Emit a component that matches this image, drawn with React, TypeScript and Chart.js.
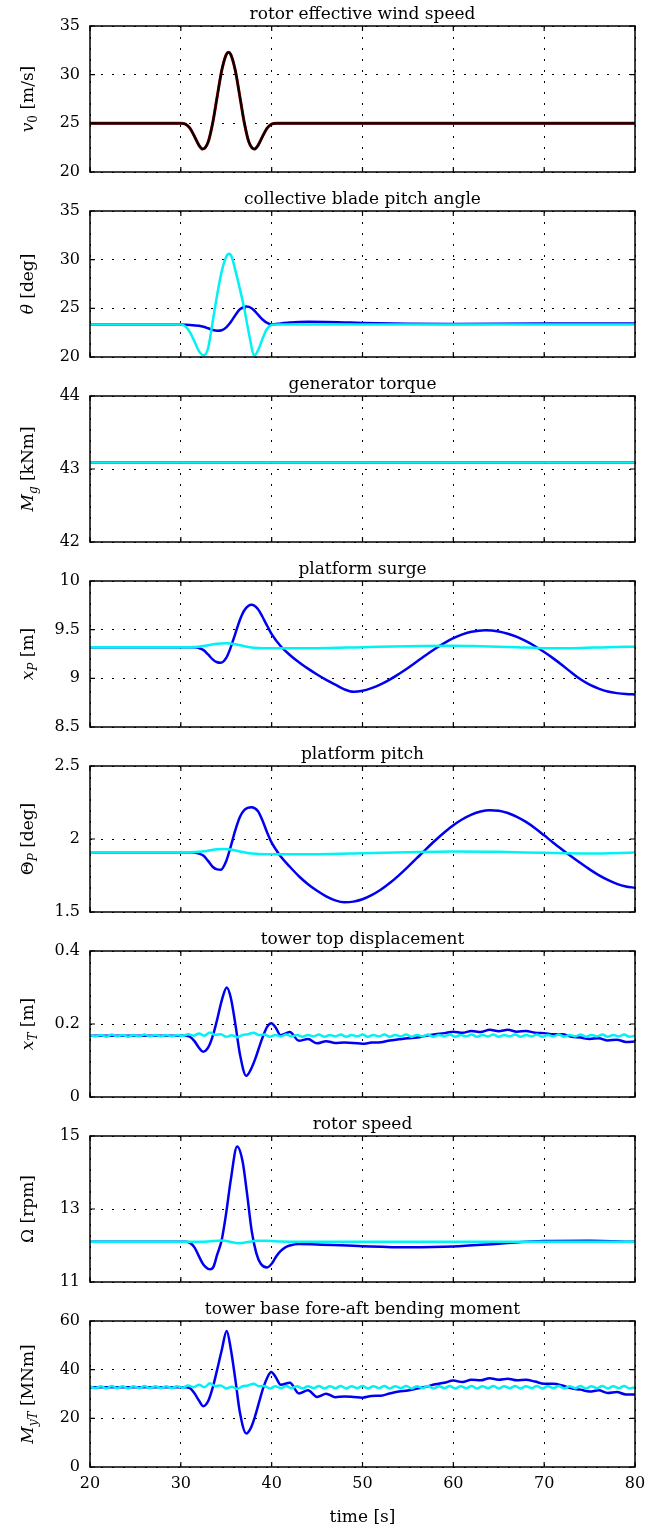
import React, { useEffect, useRef } from 'react';
import { Chart, registerables } from 'chart.js';

Chart.register(...registerables);

// ---------------- data ----------------
const xTicksTime = [20, 30, 40, 50, 60, 70, 80];

// rotor effective wind speed [m/s]
const windTime = [20, 30, 30.5, 31, 31.5, 32, 32.4, 33, 33.5, 34, 34.5, 35, 35.25, 35.5, 36, 36.5, 37, 37.5, 38.1, 38.5, 39, 39.5, 40, 40.5, 80];
const windSpeed = [25, 25, 24.93, 24.5, 23.66, 22.74, 22.36, 23.06, 25, 27.74, 30.42, 32.07, 32.3, 32.07, 30.42, 27.74, 25, 23.06, 22.36, 22.74, 23.66, 24.5, 24.93, 25, 25];

// collective blade pitch angle [deg]
const bladePitchBlueTime = [20, 30, 31, 32, 32.5, 33, 33.5, 34, 34.5, 35, 35.5, 36, 36.5, 37.2, 37.5, 38, 38.5, 39, 39.5, 40, 41, 42, 44, 46, 48, 50, 55, 60, 70, 80];
const bladePitchBlue = [23.35, 23.35, 23.3, 23.2, 23.1, 22.95, 22.78, 22.7, 22.75, 23.05, 23.6, 24.3, 24.9, 25.2, 25.15, 24.85, 24.35, 23.85, 23.5, 23.35, 23.45, 23.55, 23.62, 23.6, 23.55, 23.5, 23.42, 23.4, 23.45, 23.45];
const bladePitchCyanTime = [20, 30, 30.5, 31, 31.5, 32, 32.5, 33, 33.5, 34, 34.5, 35, 35.3, 35.6, 36, 36.5, 37, 37.5, 38.1, 38.6, 39, 39.5, 40, 40.5, 80];
const bladePitchCyan = [23.35, 23.35, 23.15, 22.55, 21.6, 20.6, 20.17, 20.9, 23.6, 26.4, 28.8, 30.3, 30.6, 30.3, 28.9, 27.0, 24.9, 22.4, 20.17, 20.9, 21.9, 22.9, 23.3, 23.35, 23.35];

// generator torque [kNm]
const torqueTime = [20, 80];
const torqueBlue = [43.09, 43.09];
const torqueCyan = [43.09, 43.09];

// platform surge [m]
const surgeBlueTime = [20, 31, 31.5, 32, 32.5, 33, 33.5, 34, 34.4, 35, 35.5, 36, 36.5, 37, 37.8, 38.5, 39, 39.5, 40, 41, 42, 43, 44, 45, 46, 47, 48, 49, 50, 51, 52, 53, 54, 55, 56, 57, 58, 59, 60, 61, 62, 63.5, 65, 66, 67, 68, 69, 70, 71, 72, 73, 74, 75, 76, 77, 78, 79, 80];
const surgeBlue = [9.32, 9.32, 9.318, 9.31, 9.29, 9.245, 9.195, 9.165, 9.16, 9.21, 9.32, 9.46, 9.6, 9.7, 9.755, 9.71, 9.63, 9.54, 9.455, 9.33, 9.24, 9.165, 9.1, 9.04, 8.985, 8.935, 8.887, 8.862, 8.872, 8.9, 8.938, 8.987, 9.045, 9.107, 9.173, 9.24, 9.304, 9.362, 9.412, 9.451, 9.478, 9.494, 9.482, 9.458, 9.425, 9.382, 9.33, 9.27, 9.205, 9.135, 9.06, 8.99, 8.935, 8.895, 8.865, 8.848, 8.838, 8.835];
const surgeCyanTime = [20, 31, 32, 33, 34, 35, 36, 37, 38, 39, 42, 45, 50, 55, 60, 63, 67, 70, 73, 77, 80];
const surgeCyan = [9.32, 9.32, 9.325, 9.34, 9.355, 9.36, 9.35, 9.33, 9.315, 9.31, 9.31, 9.31, 9.32, 9.33, 9.335, 9.33, 9.32, 9.31, 9.31, 9.32, 9.325];

// platform pitch [deg]
const platPitchBlueTime = [20, 31, 31.5, 32, 32.5, 33, 33.5, 34, 34.4, 35, 35.5, 36, 36.5, 37, 37.8, 38.5, 39, 39.5, 40, 40.5, 41, 42, 43, 44, 45, 46, 47, 48, 49, 50, 51, 52, 53, 54, 55, 56, 57, 58, 59, 60, 61, 62, 63, 64, 65, 66, 67, 68, 69, 70, 71, 72, 73, 74, 75, 76, 77, 78, 79, 80];
const platPitchBlue = [1.91, 1.91, 1.908, 1.9, 1.885, 1.85, 1.81, 1.792, 1.79, 1.85, 1.95, 2.06, 2.15, 2.2, 2.218, 2.19, 2.125, 2.045, 1.975, 1.925, 1.88, 1.81, 1.745, 1.69, 1.645, 1.607, 1.58, 1.567, 1.571, 1.587, 1.615, 1.652, 1.698, 1.751, 1.809, 1.87, 1.931, 1.99, 2.045, 2.094, 2.135, 2.167, 2.188, 2.197, 2.194, 2.178, 2.152, 2.117, 2.074, 2.025, 1.975, 1.927, 1.88, 1.835, 1.792, 1.753, 1.72, 1.693, 1.675, 1.666];
const platPitchCyanTime = [20, 31, 32, 33, 34, 34.8, 35.5, 36.5, 37.5, 38.5, 40, 45, 50, 55, 60, 65, 70, 75, 80];
const platPitchCyan = [1.91, 1.91, 1.912, 1.92, 1.93, 1.932, 1.928, 1.915, 1.902, 1.898, 1.896, 1.896, 1.902, 1.91, 1.915, 1.912, 1.905, 1.9, 1.908];

// tower responses (blue)
const structTime = [20, 30.5, 31, 31.5, 32, 32.45, 33, 33.5, 34, 34.5, 35.05, 35.5, 36, 36.5, 37.2, 37.7, 38.2, 38.7, 39.1, 39.5, 39.95, 40.4, 41, 42, 43, 44, 45, 46, 47, 48, 49, 50, 51, 52, 53, 54, 55, 56, 57, 58, 59, 60, 61, 62, 63, 64, 65, 66, 67, 68, 69, 70, 71, 72, 73, 74, 75, 76, 77, 78, 79, 80];
const towerTopBlue = [0.168, 0.168, 0.165, 0.153, 0.135, 0.124, 0.135, 0.166, 0.212, 0.264, 0.3, 0.272, 0.2, 0.118, 0.058, 0.075, 0.105, 0.142, 0.17, 0.192, 0.202, 0.192, 0.169, 0.178, 0.154, 0.159, 0.147, 0.153, 0.148, 0.149, 0.148, 0.146, 0.149, 0.15, 0.155, 0.158, 0.161, 0.163, 0.168, 0.172, 0.175, 0.179, 0.176, 0.181, 0.178, 0.184, 0.18, 0.184, 0.179, 0.181, 0.176, 0.175, 0.172, 0.172, 0.165, 0.163, 0.159, 0.161, 0.155, 0.157, 0.151, 0.152];
const towerBaseBlue = [32.8, 32.8, 32.4, 30.3, 27.3, 25.0, 27.0, 32.5, 40.0, 48.0, 55.9, 48.5, 36.0, 22.5, 13.8, 16.0, 21.2, 27.8, 32.8, 36.6, 39.0, 37.2, 33.8, 34.6, 30.2, 31.5, 28.8, 30.1, 28.7, 29.0, 28.8, 28.5, 29.2, 29.3, 30.2, 31.0, 31.4, 32.2, 33.0, 34.0, 34.6, 35.5, 34.9, 35.9, 35.6, 36.5, 35.9, 36.3, 35.6, 35.9, 35.1, 34.2, 34.2, 33.5, 32.3, 31.8, 31.0, 31.5, 30.4, 30.8, 29.8, 29.8];

// tower responses (cyan, with the small tower vibration)
const wiggleTime = [20, 20.6, 21.2, 21.8, 22.4, 23, 23.6, 24.2, 24.8, 25.4, 26, 26.6, 27.2, 27.8, 28.4, 29, 29.6, 30.2, 30.8, 31.4, 32, 32.6, 33.2, 33.8, 34.4, 35, 35.6, 36.2, 36.8, 37.4, 38, 38.6, 39.2, 39.8, 40.4, 41, 41.6, 42.2, 42.8, 43.4, 44, 44.6, 45.2, 45.8, 46.4, 47, 47.6, 48.2, 48.8, 49.4, 50, 50.6, 51.2, 51.8, 52.4, 53, 53.6, 54.2, 54.8, 55.4, 56, 56.6, 57.2, 57.8, 58.4, 59, 59.6, 60.2, 60.8, 61.4, 62, 62.6, 63.2, 63.8, 64.4, 65, 65.6, 66.2, 66.8, 67.4, 68, 68.6, 69.2, 69.8, 70.4, 71, 71.6, 72.2, 72.8, 73.4, 74, 74.6, 75.2, 75.8, 76.4, 77, 77.6, 78.2, 78.8, 79.4, 80];
const towerTopCyan = [
  0.170, 0.166, 0.170, 0.165, 0.171, 0.166, 0.170, 0.165, 0.170, 0.166,
  0.171, 0.166, 0.170, 0.166, 0.170, 0.166, 0.170, 0.167, 0.172, 0.168,
  0.174, 0.168, 0.177, 0.170, 0.172, 0.165, 0.169, 0.164, 0.170, 0.172,
  0.176, 0.170, 0.171, 0.165, 0.170, 0.166, 0.171, 0.166, 0.170, 0.165,
  0.170, 0.166, 0.171, 0.165, 0.170, 0.166, 0.171, 0.165, 0.170, 0.166,
  0.171, 0.165, 0.170, 0.166, 0.171, 0.165, 0.170, 0.166, 0.171, 0.165,
  0.170, 0.166, 0.171, 0.165, 0.170, 0.166, 0.171, 0.165, 0.170, 0.166,
  0.171, 0.165, 0.170, 0.166, 0.171, 0.165, 0.170, 0.166, 0.171, 0.165,
  0.170, 0.166, 0.171, 0.165, 0.170, 0.166, 0.171, 0.165, 0.170, 0.166,
  0.171, 0.165, 0.170, 0.166, 0.171, 0.165, 0.170, 0.166, 0.171, 0.165,
  0.168];
const towerBaseCyan = [
  33.2, 32.4, 33.2, 32.3, 33.3, 32.4, 33.2, 32.3, 33.2, 32.4,
  33.3, 32.4, 33.2, 32.4, 33.2, 32.4, 33.2, 32.6, 33.5, 32.8,
  33.8, 32.8, 34.4, 33.2, 33.5, 32.3, 33.0, 32.1, 33.2, 33.5,
  34.2, 33.2, 33.3, 32.3, 33.2, 32.4, 33.3, 32.4, 33.2, 32.3,
  33.2, 32.4, 33.3, 32.3, 33.2, 32.4, 33.3, 32.3, 33.2, 32.4,
  33.3, 32.3, 33.2, 32.4, 33.3, 32.3, 33.2, 32.4, 33.3, 32.3,
  33.2, 32.4, 33.3, 32.3, 33.2, 32.4, 33.3, 32.3, 33.2, 32.4,
  33.3, 32.3, 33.2, 32.4, 33.3, 32.3, 33.2, 32.4, 33.3, 32.3,
  33.2, 32.4, 33.3, 32.3, 33.2, 32.4, 33.3, 32.3, 33.2, 32.4,
  33.3, 32.3, 33.2, 32.4, 33.3, 32.3, 33.2, 32.4, 33.3, 32.3,
  32.8];

// rotor speed [rpm]
const rotorBlueTime = [20, 30.5, 31, 31.5, 32, 32.5, 33, 33.25, 33.6, 34, 34.5, 35, 35.5, 36.2, 36.8, 37.3, 37.8, 38.3, 38.8, 39.5, 40, 40.5, 41, 41.5, 42, 43, 45, 50, 55, 60, 65, 70, 75, 80];
const rotorBlue = [12.1, 12.1, 12.07, 11.95, 11.7, 11.47, 11.36, 11.35, 11.42, 11.75, 12.15, 12.9, 13.8, 14.71, 14.3, 13.4, 12.4, 11.8, 11.5, 11.4, 11.5, 11.7, 11.85, 11.95, 12.0, 12.04, 12.03, 11.98, 11.95, 11.97, 12.05, 12.12, 12.13, 12.1];
const rotorCyanTime = [20, 32, 33, 34.5, 36.3, 38.5, 39.5, 41, 43, 80];
const rotorCyan = [12.1, 12.1, 12.11, 12.14, 12.065, 12.13, 12.13, 12.11, 12.1, 12.1];

// panel texts and y-axis ranges
const panelTitles = [
  'rotor effective wind speed',
  'collective blade pitch angle',
  'generator torque',
  'platform surge',
  'platform pitch',
  'tower top displacement',
  'rotor speed',
  'tower base fore-aft bending moment',
];
const yMins = [20, 20, 42, 8.5, 1.5, 0, 11, 0];
const yMaxs = [35, 35, 44, 10, 2.5, 0.4, 15, 60];
const ySteps = [5, 5, 1, 0.5, 0.5, 0.2, 2, 20];
const xAxisTitle = 'time [s]';

type Seg = { t: string; it?: boolean; sub?: boolean };
const yLabels: Seg[][] = [
  [{ t: 'v', it: true }, { t: '0', sub: true }, { t: ' [m/s]' }],
  [{ t: 'θ', it: true }, { t: ' [deg]' }],
  [{ t: 'M', it: true }, { t: 'g', it: true, sub: true }, { t: ' [kNm]' }],
  [{ t: 'x', it: true }, { t: 'P', it: true, sub: true }, { t: ' [m]' }],
  [{ t: 'Θ' }, { t: 'P', it: true, sub: true }, { t: ' [deg]' }],
  [{ t: 'x', it: true }, { t: 'T', it: true, sub: true }, { t: ' [m]' }],
  [{ t: 'Ω' }, { t: ' [rpm]' }],
  [{ t: 'M', it: true }, { t: 'yT', it: true, sub: true }, { t: ' [MNm]' }],
];

// ---------------- styling ----------------
const FONT = '"DejaVu Serif"';
const BLUE = '#0000f0';
const CYAN = '#00f2f2';
const RED = '#b00000';
const BLACK = '#000000';

type Series = { x: number[]; y: number[]; color: string; width: number };
const panelSeries: Series[][] = [
  [
    { x: windTime, y: windSpeed, color: BLACK, width: 2.2 },
    { x: windTime, y: windSpeed, color: RED, width: 3 },
  ],
  [
    { x: bladePitchCyanTime, y: bladePitchCyan, color: CYAN, width: 2.5 },
    { x: bladePitchBlueTime, y: bladePitchBlue, color: BLUE, width: 2.5 },
  ],
  [
    { x: torqueTime, y: torqueCyan, color: CYAN, width: 2.5 },
    { x: torqueTime, y: torqueBlue, color: BLUE, width: 2.5 },
  ],
  [
    { x: surgeCyanTime, y: surgeCyan, color: CYAN, width: 2.5 },
    { x: surgeBlueTime, y: surgeBlue, color: BLUE, width: 2.5 },
  ],
  [
    { x: platPitchCyanTime, y: platPitchCyan, color: CYAN, width: 2.5 },
    { x: platPitchBlueTime, y: platPitchBlue, color: BLUE, width: 2.5 },
  ],
  [
    { x: wiggleTime, y: towerTopCyan, color: CYAN, width: 2.5 },
    { x: structTime, y: towerTopBlue, color: BLUE, width: 2.5 },
  ],
  [
    { x: rotorCyanTime, y: rotorCyan, color: CYAN, width: 2.5 },
    { x: rotorBlueTime, y: rotorBlue, color: BLUE, width: 2.5 },
  ],
  [
    { x: wiggleTime, y: towerBaseCyan, color: CYAN, width: 2.5 },
    { x: structTime, y: towerBaseBlue, color: BLUE, width: 2.5 },
  ],
];

const PANEL_H = 185;
const LAST_H = 235;
const PLOT_TOP = 26;
const PLOT_H = 146;

function makeDecor(idx: number, isLast: boolean) {
  return {
    id: 'decor' + idx,
    afterDraw(chart: any) {
      const { ctx, chartArea: a } = chart;
      const xs = chart.scales.x;
      const ys = chart.scales.y;
      ctx.save();
      // frame
      ctx.strokeStyle = '#000';
      ctx.lineWidth = 1.5;
      ctx.strokeRect(a.left, a.top, a.right - a.left, a.bottom - a.top);
      // inner tick marks
      ctx.beginPath();
      xs.ticks.forEach((t: any) => {
        const px = xs.getPixelForValue(t.value);
        ctx.moveTo(px, a.bottom);
        ctx.lineTo(px, a.bottom - 5);
        ctx.moveTo(px, a.top);
        ctx.lineTo(px, a.top + 5);
      });
      ys.ticks.forEach((t: any) => {
        const py = ys.getPixelForValue(t.value);
        ctx.moveTo(a.left, py);
        ctx.lineTo(a.left + 5, py);
        ctx.moveTo(a.right, py);
        ctx.lineTo(a.right - 5, py);
      });
      ctx.lineWidth = 1.2;
      ctx.stroke();
      // title
      ctx.fillStyle = '#000';
      ctx.font = `17px ${FONT}`;
      ctx.textAlign = 'center';
      ctx.textBaseline = 'alphabetic';
      ctx.fillText(panelTitles[idx], (a.left + a.right) / 2, a.top - 7);
      // y label (rotated, with subscripts)
      const segs = yLabels[idx];
      const fontOf = (s: Seg) => `${s.it ? 'italic ' : ''}${s.sub ? 12 : 17}px ${FONT}`;
      let total = 0;
      const widths = segs.map((s) => {
        ctx.font = fontOf(s);
        const w = ctx.measureText(s.t).width;
        total += w;
        return w;
      });
      ctx.translate(29, (a.top + a.bottom) / 2);
      ctx.rotate(-Math.PI / 2);
      ctx.textAlign = 'left';
      ctx.textBaseline = 'middle';
      let cx = -total / 2;
      segs.forEach((s, k) => {
        ctx.font = fontOf(s);
        ctx.fillText(s.t, cx, s.sub ? 5 : 0);
        cx += widths[k];
      });
      ctx.setTransform(1, 0, 0, 1, 0, 0);
      if (isLast) {
        ctx.font = `17px ${FONT}`;
        ctx.textAlign = 'center';
        ctx.textBaseline = 'middle';
        ctx.fillText(xAxisTitle, (a.left + a.right) / 2, a.bottom + 51);
      }
      ctx.restore();
    },
  };
}

function buildConfig(idx: number): any {
  const isLast = idx === panelTitles.length - 1;
  const fmt = (v: any) => String(Math.round(Number(v) * 1000) / 1000);
  return {
    type: 'line',
    data: {
      datasets: panelSeries[idx].map((s) => ({
        data: s.x.map((x, k) => ({ x, y: s.y[k] })),
        borderColor: s.color,
        borderWidth: s.width,
        pointRadius: 0,
        fill: false,
        cubicInterpolationMode: 'monotone',
      })),
    },
    options: {
      animation: false,
      responsive: false,
      devicePixelRatio: 1,
      layout: { padding: { top: PLOT_TOP, right: 33, left: 0, bottom: 0 } },
      plugins: { legend: { display: false }, tooltip: { enabled: false }, title: { display: false } },
      scales: {
        x: {
          type: 'linear',
          min: xTicksTime[0],
          max: xTicksTime[xTicksTime.length - 1],
          afterBuildTicks: (s: any) => {
            s.ticks = xTicksTime.map((v) => ({ value: v }));
          },
          ticks: {
            display: isLast,
            padding: 7,
            color: '#000',
            font: { size: 16, family: FONT },
            maxRotation: 0,
            autoSkip: false,
            callback: fmt,
          },
          grid: { color: '#000', lineWidth: 1, drawTicks: false },
          border: { display: false, dash: [2, 9] },
          afterFit: (s: any) => {
            s.height = (isLast ? LAST_H : PANEL_H) - PLOT_TOP - PLOT_H;
            s.paddingTop = 0;
            s.paddingBottom = 0;
          },
        },
        y: {
          type: 'linear',
          min: yMins[idx],
          max: yMaxs[idx],
          ticks: {
            stepSize: ySteps[idx],
            padding: 10,
            color: '#000',
            font: { size: 16, family: FONT },
            callback: fmt,
          },
          grid: { color: '#000', lineWidth: 1, drawTicks: false },
          border: { display: false, dash: [2, 9] },
          afterFit: (s: any) => {
            s.width = 90;
            s.paddingTop = 0;
            s.paddingBottom = 0;
          },
        },
      },
    },
    plugins: [makeDecor(idx, isLast)],
  };
}

export default function App() {
  const refs = useRef<(HTMLCanvasElement | null)[]>([]);
  useEffect(() => {
    const charts = panelTitles.map((_, i) => new Chart(refs.current[i] as HTMLCanvasElement, buildConfig(i)));
    return () => charts.forEach((c) => c.destroy());
  }, []);
  return (
    <div style={{ position: 'absolute', left: 0, top: 0, width: 668, background: '#fff' }}>
      {panelTitles.map((_, i) => {
        const h = i === panelTitles.length - 1 ? LAST_H : PANEL_H;
        return (
          <canvas
            key={i}
            ref={(el) => {
              refs.current[i] = el;
            }}
            width={668}
            height={h}
            style={{ display: 'block', width: 668, height: h }}
          />
        );
      })}
    </div>
  );
}
